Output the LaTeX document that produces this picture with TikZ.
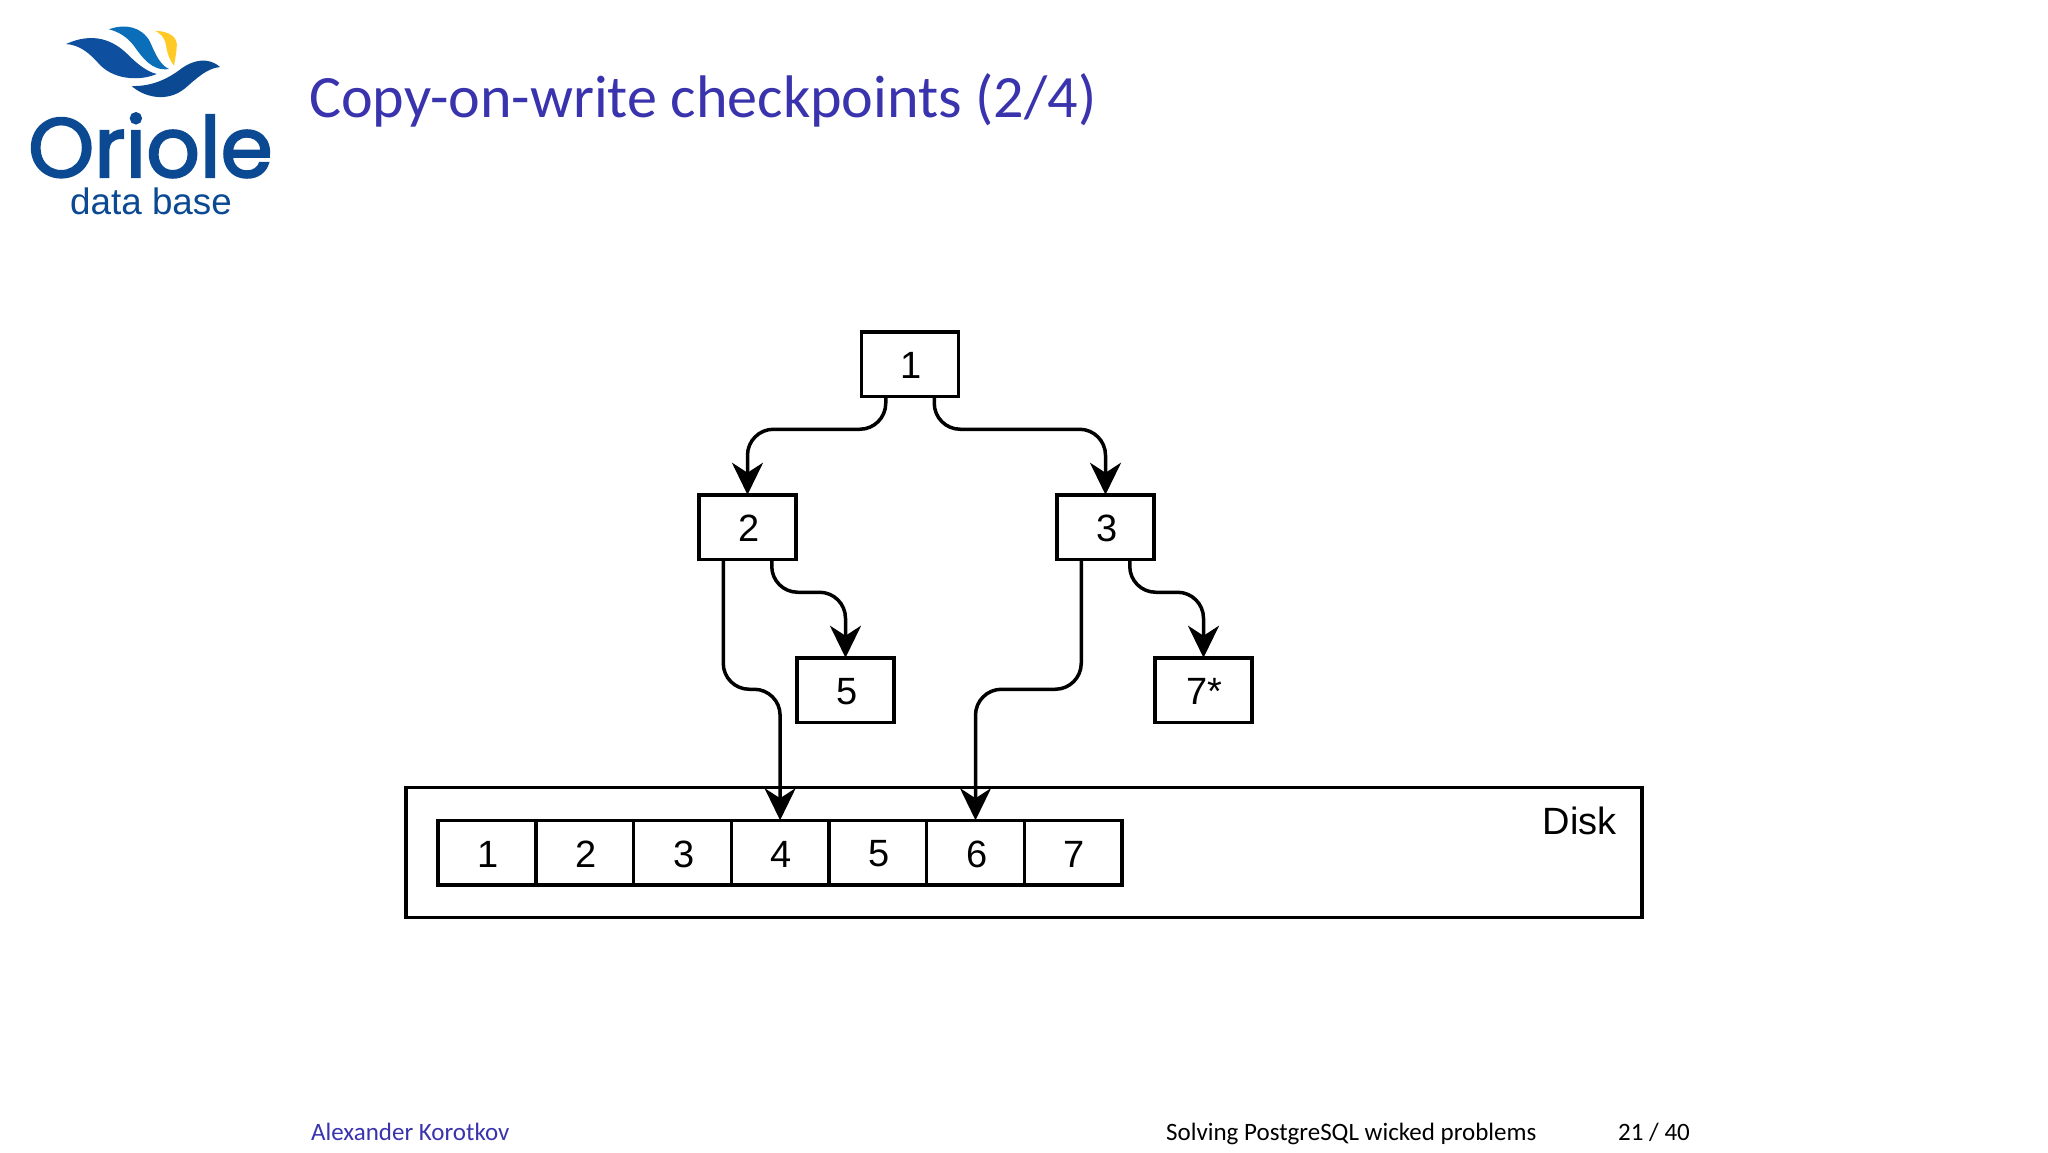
\documentclass[tikz,border=0pt]{standalone}
\usepackage{fontspec}
\usetikzlibrary{arrows.meta,calc}
\setmainfont{Liberation Sans}
\newfontfamily\slidefont{Carlito}
\newfontfamily\logofont[FakeBold=2.4]{Poppins}
\definecolor{slideblue}{HTML}{3A33AE}
\definecolor{logodark}{HTML}{0B4A92}
\definecolor{logomid}{HTML}{0F4FA0}
\definecolor{logolight}{HTML}{0A6FB8}
\definecolor{logoyellow}{HTML}{FFC926}
\newcommand{\boxlabel}[1]{\hspace*{2.6pt}\raisebox{-1.5pt}[\height][\depth]{#1}}
\tikzset{
  boxnode/.style={draw=black,line width=3.5pt,fill=white,inner sep=0pt,outer sep=0pt,minimum width=97pt,minimum height=64.5pt,font=\fontsize{38}{38}\selectfont,text=black},
  cellnode/.style={boxnode,minimum width=97.7pt},
  linkline/.style={draw=black,line width=3.5pt,rounded corners=26pt,-{Stealth[length=32pt,width=31pt,inset=10pt]}},
  footer/.style={anchor=base west,inner sep=0pt,font=\slidefont\fontsize{25}{26}\selectfont},
}
\begin{document}
\begin{tikzpicture}[x=1pt,y=-1pt]
\useasboundingbox (0,0) rectangle (2048,1152);
\fill[white] (0,0) rectangle (2048,1152);
% logo
\begin{scope}[x=0.33333pt,y=-0.33333pt]
\fill[logomid] (198,132) .. controls (280,95) and (340,120) .. (385,165) .. controls (410,190) and (440,215) .. (470,222) .. controls (430,240) and (350,245) .. (300,195) .. controls (270,160) and (240,135) .. (198,132) -- cycle;
\fill[logolight] (327,88) .. controls (375,70) and (425,80) .. (450,125) .. controls (465,160) and (480,195) .. (507,207) .. controls (455,215) and (425,170) .. (400,135) .. controls (380,110) and (355,95) .. (327,88) -- cycle;
\fill[logoyellow] (465,92) .. controls (510,95) and (535,110) .. (530,145) .. controls (528,165) and (525,180) .. (522,197) .. controls (505,175) and (500,150) .. (497,130) .. controls (492,110) and (480,100) .. (465,92) -- cycle;
\fill[logodark] (660,201) .. controls (625,170) and (580,180) .. (545,205) .. controls (500,240) and (450,260) .. (395,258) .. controls (430,290) and (500,310) .. (555,265) .. controls (590,235) and (620,205) .. (660,201) -- cycle;
\end{scope}
\node[anchor=base west,inner sep=0pt,text=logodark,font=\logofont\fontsize{84}{84}\selectfont] (oriole) at (28,177) {Oriole};
\node[anchor=base west,inner sep=0pt,text=logodark,font=\fontsize{36.8}{37}\selectfont] (database) at (70,214) {data base};
% title and footer
\node[anchor=base west,inner sep=0pt,text=slideblue,font=\slidefont\fontsize{60.1}{64}\selectfont] (title) at (309,117.5) {Copy-on-write checkpoints (2/4)};
\node[footer,text=slideblue] (author) at (311,1140) {Alexander Korotkov};
\node[footer,text=black] (talk) at (1166,1140) {Solving PostgreSQL wicked problems};
\node[footer,text=black] (page) at (1618,1140) {21 / 40};
% disk
\node[draw=black,line width=3.5pt,inner sep=0pt,outer sep=0pt,minimum width=1236pt,minimum height=130pt] (disk) at (1024,852.5) {};
\node[anchor=base east,inner sep=0pt,font=\fontsize{38}{38}\selectfont] (disklabel) at (1617,834) {Disk};
\foreach \n/\x in {1/487,2/584.7,3/682.4,4/780.1,5/877.8,6/975.5,7/1073.2}
  \node[cellnode] (c\n) at (\x,852.5) {\boxlabel{\n}};
% tree
\node[boxnode] (b1) at (910,364) {\boxlabel{1}};
\node[boxnode] (b2) at (747.5,527) {\boxlabel{2}};
\node[boxnode] (b3) at (1105.5,527) {\boxlabel{3}};
\node[boxnode] (b5) at (845.5,690) {\boxlabel{5}};
\node[boxnode] (b7) at (1203.5,690) {\boxlabel{7*}};
% connectors
\draw[linkline] ($(b1.south west)!0.25!(b1.south east)$) -- ++(0,33) -| (b2.north);
\draw[linkline] ($(b1.south west)!0.75!(b1.south east)$) -- ++(0,33) -| (b3.north);
\draw[linkline] ($(b2.south west)!0.75!(b2.south east)$) -- ++(0,33) -| (b5.north);
\draw[linkline] ($(b3.south west)!0.75!(b3.south east)$) -- ++(0,33) -| (b7.north);
\draw[linkline] ($(b2.south west)!0.25!(b2.south east)$) -- ++(0,130) -| (c4.north);
\draw[linkline] ($(b3.south west)!0.25!(b3.south east)$) -- ++(0,130) -| (c6.north);
\end{tikzpicture}
\end{document}
